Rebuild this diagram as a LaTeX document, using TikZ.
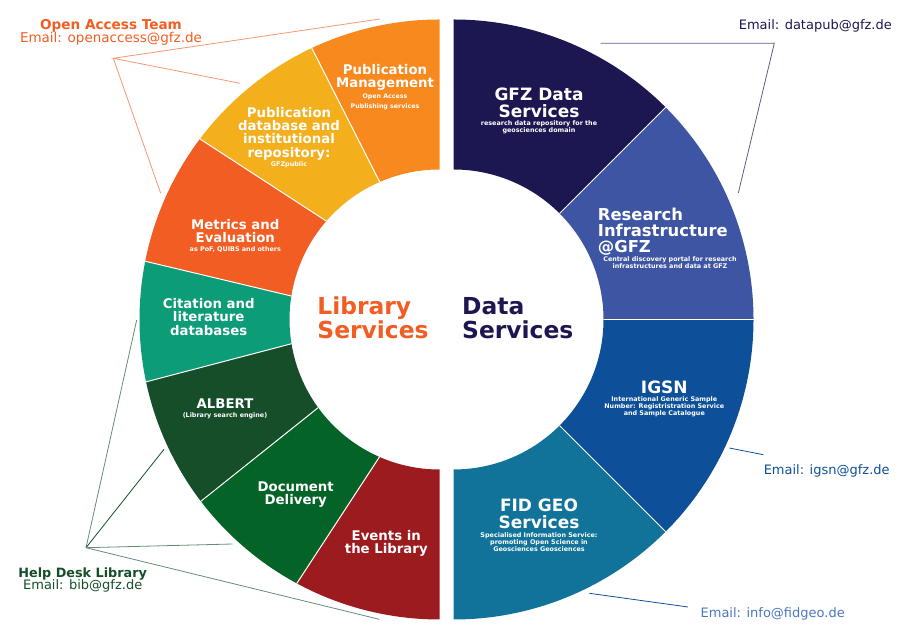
\documentclass[tikz,border=0pt]{standalone}
\usepackage{fontspec}
\setmainfont{DejaVu Sans}
\definecolor{pubmgtcol}{HTML}{F7891F}
\definecolor{pubdbcol}{HTML}{F3AF1C}
\definecolor{metricscol}{HTML}{F15D22}
\definecolor{citecol}{HTML}{0C9C77}
\definecolor{albertcol}{HTML}{154E29}
\definecolor{docdelcol}{HTML}{046427}
\definecolor{eventscol}{HTML}{9C1B1F}
\definecolor{gfzcol}{HTML}{1C1651}
\definecolor{researchcol}{HTML}{3E55A3}
\definecolor{igsncol}{HTML}{0D5099}
\definecolor{fidcol}{HTML}{117399}
\definecolor{infocol}{HTML}{4A78C0}
\tikzset{
  headsm/.style={text=white, align=center, inner sep=0pt, font=\bfseries\fontsize{13.3}{13.3}\selectfont},
  headlg/.style={text=white, align=center, inner sep=0pt, font=\bfseries\fontsize{17}{17.3}\selectfont},
  subtxt/.style={text=white, align=center, inner sep=0pt, font=\bfseries\fontsize{6.4}{6.7}\selectfont},
  title/.style={align=left, inner sep=0pt, font=\bfseries\fontsize{23.4}{23.8}\selectfont},
  mail/.style={inner sep=0pt, font=\fontsize{13}{13}\selectfont},
  team/.style={inner sep=0pt, font=\bfseries\fontsize{13}{13}\selectfont},
  leader/.style={line width=0.8pt},
}
\begin{document}
\begin{tikzpicture}[x=1pt, y=1pt]
\useasboundingbox (0, 0) rectangle (909, 644);
% left half
\begin{scope}[shift={(439.5, 324.5)}]
\foreach \col/\oa/\ob/\ia/\ib in {
    pubmgtcol/90/115.2/90/113.5, pubdbcol/115.2/143/113.5/139,
    metricscol/143/168.8/139/171, citecol/168.8/192/171/189.3,
    albertcol/192/217.3/189.3/216, docdelcol/217.3/241.6/216/246.4,
    eventscol/241.6/270/246.4/270}
  \fill[\col] (\oa:300) arc[start angle=\oa, end angle=\ob, radius=300]
    -- (\ib:150) arc[start angle=\ib, end angle=\ia, radius=150] -- cycle;
\foreach \oa/\ia in {115.2/113.5, 143/139, 168.8/171, 192/189.3, 217.3/216, 241.6/246.4}
  \draw[white, line width=1pt] (\oa:300) -- (\ia:150);
\end{scope}
% right half
\begin{scope}[shift={(453.5, 324.5)}]
\foreach \col/\oa/\ob in {gfzcol/90/45, researchcol/45/0, igsncol/0/-45, fidcol/-45/-90}
  \fill[\col] (\oa:300) arc[start angle=\oa, end angle=\ob, radius=300]
    -- (\ob:150) arc[start angle=\ob, end angle=\oa, radius=150] -- cycle;
\foreach \oa in {45, 0, -45}
  \draw[white, line width=1pt] (\oa:300) -- (\oa:150);
\end{scope}
% segment labels
\node[headsm] (pubmgt) at (385, 566.5) {Publication\\Management};
\node[subtxt, font=\bfseries\fontsize{6.3}{9.7}\selectfont] (pubmgtsub) at (385, 542.2) {Open Access\\Publishing services};
\node[headsm] (pubdb) at (289, 510.5) {Publication\\database and\\institutional\\repository:};
\node[subtxt] (pubdbsub) at (289, 479) {GFZpublic};
\node[headsm] (metrics) at (235.3, 413.2) {Metrics and\\Evaluation};
\node[subtxt] (metricssub) at (235.3, 394.7) {as PoF, QUIBS and others};
\node[headsm] (cite) at (208.7, 327) {Citation and\\literature\\databases};
\node[headsm] (albert) at (225, 240.7) {ALBERT};
\node[subtxt] (albertsub) at (225, 228.3) {(Library search engine)};
\node[headsm] (docdel) at (295.7, 149.7) {Document\\Delivery};
\node[headsm] (events) at (386.3, 100.3) {Events in\\the Library};
\node[headlg] (gfz) at (539, 541.4) {GFZ Data\\Services};
\node[subtxt] (gfzsub) at (539, 516.7) {research data repository for the\\geosciences domain};
\node[headlg, align=left, anchor=west, font=\bfseries\fontsize{16.4}{16}\selectfont] (research) at (597.7, 412) {Research\\Infrastructure\\@GFZ};
\node[subtxt] (researchsub) at (670, 381.3) {Central discovery portal for research\\infrastructures and data at GFZ};
\node[headlg] (igsn) at (664.3, 257) {IGSN};
\node[subtxt] (igsnsub) at (664.3, 237.3) {International Generic Sample\\Number: Registristration Service\\and Sample Catalogue};
\node[headlg] (fid) at (539, 130.3) {FID GEO\\Services};
\node[subtxt] (fidsub) at (539, 101.7) {Specialised Information Service:\\promoting Open Science in\\Geosciences Geosciences};
% centre
\node[title, text=metricscol] (library) at (373, 326) {Library\\Services};
\node[title, text=gfzcol, anchor=west] (data) at (462, 326) {Data\\Services};
% contacts
\node[team, text=metricscol, font=\bfseries\fontsize{13.6}{13}\selectfont] (oateam) at (111, 618) {Open Access Team};
\node[mail, text=metricscol, font=\fontsize{13.5}{13}\selectfont] (oamail) at (111, 605) {Email: openaccess@gfz.de};
\node[team, text=albertcol, font=\bfseries\fontsize{12.8}{13}\selectfont] (helpteam) at (82.7, 69.7) {Help Desk Library};
\node[mail, text=albertcol] (helpmail) at (82.7, 57.7) {Email: bib@gfz.de};
\node[mail, text=gfzcol] (datamail) at (815.3, 618.3) {Email: datapub@gfz.de};
\node[mail, text=igsncol] (igsnmail) at (826.7, 172.8) {Email: igsn@gfz.de};
\node[mail, text=infocol] (fidmail) at (772.7, 29.8) {Email: info@fidgeo.de};
% leader lines
\coordinate (oahub) at (113.3, 585.7);
\coordinate (oaa) at (380, 625);
\coordinate (oab) at (240, 560.7);
\coordinate (oac) at (160.7, 450.7);
\draw[leader, metricscol!65] (oab) -- (oahub) -- (oaa);
\draw[leader, metricscol!65] (oahub) -- (oac);
\coordinate (helphub) at (86, 96.3);
\coordinate (helpa) at (136.7, 324);
\coordinate (helpb) at (164, 194.7);
\coordinate (helpc) at (232.7, 100);
\coordinate (helpd) at (379.3, 24.7);
\draw[leader, albertcol!65] (helphub) -- (helpa);
\draw[leader, albertcol] (helphub) -- (helpb);
\draw[leader, albertcol!65] (helphub) -- (helpc);
\draw[leader, albertcol!65] (helphub) -- (helpd);
\coordinate (dataa) at (600.7, 600.7);
\coordinate (datab) at (774.3, 600.7);
\coordinate (datac) at (738.3, 451);
\draw[leader, gfzcol!70] (dataa) -- (datab) -- (datac);
\coordinate (igsna) at (729.3, 196);
\coordinate (igsnb) at (763.3, 189.3);
\draw[leader, igsncol] (igsna) -- (igsnb);
\coordinate (fida) at (589.3, 50.7);
\coordinate (fidb) at (688, 37);
\draw[leader, igsncol] (fida) -- (fidb);
\end{tikzpicture}
\end{document}
